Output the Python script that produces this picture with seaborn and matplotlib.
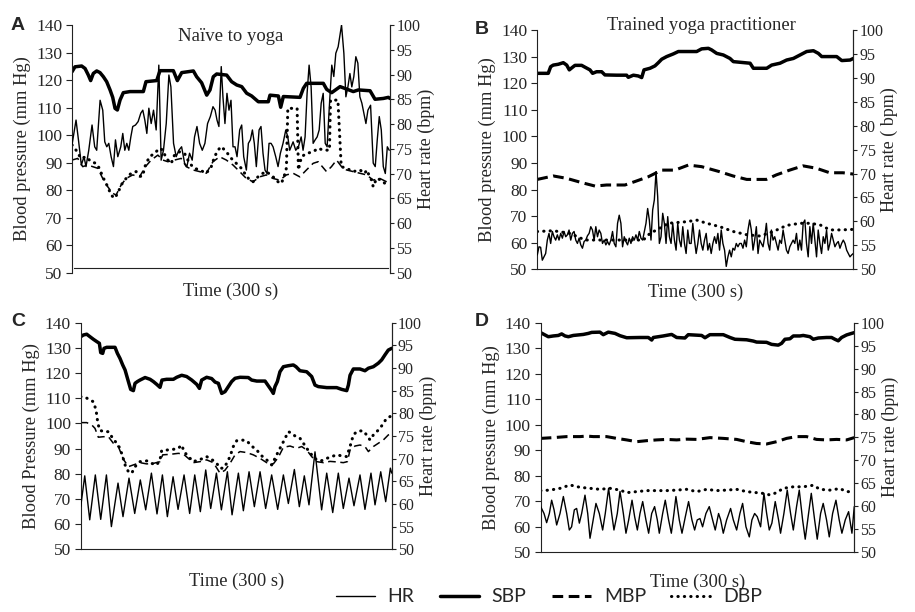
import numpy as np
import matplotlib
matplotlib.use("Agg")
import matplotlib.pyplot as plt
from matplotlib.lines import Line2D
import seaborn as sns

# ---------- Panel A : naive to yoga ----------
a_hr_t = [0, 3.8, 6.3, 8.8, 11.3, 13.2, 15.8, 18.9, 21.4, 23.3, 26.5, 29.0, 30.9, 32.8, 34.7, 36.9, 39.1, 41.0, 43.2, 46.0,
          47.9, 49.8, 51.7, 53.6, 55.5, 57.3, 59.9, 62.4, 64.9, 66.8, 68.7, 70.6, 72.5, 74.7, 76.9, 79.4, 81.9, 84.1, 86.3, 88.9,
          91.4, 93.3, 95.8, 98.3, 100.8, 103.4, 106.2, 108.4, 110.9, 113.4, 115.6, 117.9, 120.4, 122.9, 125.4, 127.9, 130.5, 133.0, 135.0, 136.8,
          138.6, 140.8, 142.4, 144.3, 146.2, 148.1, 150.0, 151.9, 153.8, 155.7, 158.2, 160.1, 162.0, 164.5, 166.4, 168.3, 170.2, 172.0, 173.9, 176.5,
          178.3, 180.2, 182.1, 184.0, 185.9, 187.8, 189.7, 192.2, 194.4, 196.6, 199.1, 201.7, 203.6, 205.4, 208.6, 211.1, 213.6, 216.2, 218.0, 219.9,
          221.8, 223.7, 225.6, 227.5, 229.4, 231.3, 233.2, 235.1, 237.0, 238.9, 240.7, 242.6, 245.1, 247.0, 248.9, 251.1, 254.3, 256.5, 258.4, 260.3,
          262.2, 264.0, 265.9, 267.8, 269.7, 271.6, 273.5, 275.4, 277.3, 279.2, 281.7, 284.2, 286.1, 288.0, 289.9, 291.8, 293.7, 295.6, 297.5, 299.3]
a_hr = [75.8, 80.8, 76.4, 71.7, 73.4, 71.4, 74.7, 79.8, 75.4, 74.7, 84.8, 82.8, 76.4, 75.4, 76.1, 73.4, 71.4, 76.8, 73.4, 75.4,
        78.1, 74.7, 76.1, 74.7, 77.4, 79.5, 79.8, 80.5, 82.2, 82.8, 80.8, 78.1, 83.2, 80.1, 82.8, 78.8, 91.9, 72.7, 74.7, 80.1,
        89.9, 87.5, 76.1, 73.4, 74.7, 75.4, 72.1, 71.4, 74.1, 72.7, 77.4, 79.5, 76.1, 74.7, 76.1, 80.1, 81.5, 83.5, 82.8, 80.8,
        79.5, 91.6, 85.5, 80.1, 86.2, 82.8, 84.8, 75.4, 75.4, 73.4, 78.8, 79.8, 73.4, 70.7, 76.1, 76.8, 78.8, 76.1, 71.4, 78.8,
        79.5, 74.1, 70.7, 70.0, 76.1, 76.1, 75.4, 73.4, 71.4, 74.1, 76.1, 78.8, 77.4, 74.7, 76.4, 74.7, 75.4, 77.4, 74.7, 77.4,
        86.2, 91.9, 87.5, 76.1, 76.8, 77.4, 78.8, 84.2, 86.2, 76.1, 75.4, 82.8, 91.9, 89.6, 94.3, 95.6, 100.0, 94.3, 85.5, 87.5,
        90.2, 87.5, 89.6, 93.6, 92.3, 85.5, 84.2, 82.2, 80.1, 82.8, 83.8, 72.1, 71.4, 76.8, 81.5, 78.8, 71.4, 70.0, 75.4, 74.7]
a_sbp_t = [0, 2.8, 9.1, 12.3, 15.4, 17.6, 20.1, 23.3, 26.4, 29.6, 32.7, 35.9, 38.4, 40.6, 42.8, 45.3, 48.4, 54.7, 67.3, 69.8,
           79.9, 83.0, 95.6, 99.4, 103.5, 114.5, 117.6, 122.3, 127.1, 130.2, 133.3, 136.5, 145.9, 150.6, 155.4, 160.1, 164.8, 169.5, 175.8, 185.2,
           186.8, 194.7, 196.9, 199.4, 215.1, 218.3, 221.4, 237.1, 240.3, 245.0, 252.9, 259.2, 265.4, 270.2, 281.2, 285.9, 293.7, 298.5, 300]
a_sbp = [123.0, 124.8, 125.1, 124.2, 121.8, 119.8, 122.4, 123.3, 122.7, 121.2, 119.4, 116.4, 113.7, 109.7, 109.1, 112.7, 115.4, 115.8, 115.8, 119.4,
         119.8, 123.4, 123.4, 119.8, 122.7, 123.3, 121.2, 119.0, 114.5, 116.4, 121.2, 122.2, 121.8, 119.4, 118.2, 117.6, 115.2, 114.2, 112.1, 112.1,
         114.5, 114.2, 110.1, 114.0, 113.7, 117.0, 118.8, 118.8, 116.6, 115.4, 117.6, 116.7, 115.8, 116.4, 116.1, 113.0, 113.3, 113.7, 113.3]
a_mbp_t = [0, 5.4, 10.1, 14.8, 19.5, 24.3, 29.0, 33.7, 38.4, 41.6, 46.3, 51.0, 57.3, 63.7, 69.3, 74.7, 81.0, 85.7, 90.4, 96.7,
           103.0, 107.8, 114.1, 120.4, 126.7, 133.0, 139.3, 145.6, 151.9, 158.2, 164.5, 170.8, 177.1, 183.4, 189.7, 196.0, 202.3, 208.6, 214.9, 221.2,
           227.5, 232.2, 240.1, 244.8, 249.6, 254.3, 259.0, 265.3, 271.6, 277.9, 284.2, 290.5, 296.8, 300]
a_mbp = [90.9, 91.5, 88.5, 89.1, 88.5, 87.9, 84.2, 81.2, 78.8, 78.2, 81.8, 84.2, 85.5, 84.8, 88.5, 90.9, 92.7, 90.9, 90.3, 90.9,
         91.5, 88.5, 87.3, 86.7, 86.1, 90.3, 92.1, 90.9, 89.1, 86.7, 84.2, 83.0, 84.8, 85.5, 84.2, 83.6, 85.5, 86.1, 84.8, 87.3,
         89.7, 90.3, 86.7, 88.5, 90.9, 88.5, 87.3, 86.7, 86.1, 85.5, 83.6, 84.2, 83.0, 82.4]
a_dbp_t = [0, 3.8, 8.5, 13.2, 18.0, 22.7, 25.8, 29.0, 33.7, 36.9, 40.0, 43.2, 46.3, 51.0, 55.8, 60.5, 65.2, 66.8, 69.3, 73.1,
           77.8, 82.6, 85.7, 88.9, 93.6, 96.7, 101.5, 106.2, 110.9, 115.6, 120.4, 126.7, 131.4, 134.5, 137.7, 140.8, 145.6, 150.3, 155.0, 159.8,
           162.9, 167.6, 170.8, 175.5, 180.2, 183.4, 189.7, 194.4, 197.6, 200.5, 202.3, 203.6, 212.4, 213.6, 216.5, 221.2, 227.5, 232.2, 237.0, 241.7,
           242.9, 243.9, 250.9, 254.0, 259.0, 265.3, 271.6, 276.4, 277.9, 282.6, 284.2, 287.3, 292.1, 295.2, 298.4]
a_dbp = [96.4, 94.5, 91.5, 92.1, 90.3, 89.7, 87.9, 84.8, 81.2, 78.2, 77.0, 78.8, 81.8, 84.2, 86.1, 86.7, 84.8, 85.5, 89.1, 92.1,
         93.3, 95.2, 94.5, 91.5, 89.7, 92.7, 93.9, 93.3, 89.7, 87.9, 87.3, 86.1, 88.5, 92.1, 94.5, 95.8, 93.9, 91.5, 89.7, 87.9,
         86.1, 83.6, 83.0, 84.8, 86.1, 86.7, 84.8, 83.0, 82.4, 85.5, 88.0, 109.7, 109.7, 87.3, 92.1, 93.3, 93.9, 95.2, 94.5, 94.5,
         94.5, 112.7, 112.7, 88.5, 87.9, 86.7, 87.3, 86.1, 87.3, 83.6, 81.2, 84.2, 83.6, 82.4, 81.2]

# ---------- Panel B : trained yoga practitioner ----------
b_hr = [53.0, 54.7, 54.6, 51.9, 52.6, 53.3, 56.1, 57.5, 55.4, 57.9, 56.8, 56.1, 57.2, 56.1, 57.5, 56.5, 57.9, 56.8, 57.2, 58.2,
        56.1, 57.5, 57.9, 56.1, 55.4, 56.5, 55.1, 54.4, 55.8, 56.1, 57.0, 57.5, 58.9, 58.2, 56.1, 58.9, 56.8, 58.2, 57.5, 55.4,
        56.1, 55.1, 55.8, 55.1, 56.1, 57.9, 55.4, 54.7, 59.6, 61.3, 59.6, 54.7, 56.8, 55.8, 55.1, 56.5, 55.4, 56.8, 56.1, 57.2,
        56.1, 57.9, 56.5, 56.1, 57.9, 59.6, 62.7, 60.3, 56.1, 62.4, 64.5, 70.4, 65.2, 55.4, 56.8, 61.7, 59.6, 55.4, 61.0, 56.8,
        55.4, 59.6, 56.1, 54.0, 59.6, 56.1, 54.7, 58.9, 55.4, 53.3, 58.2, 55.4, 55.4, 59.6, 56.1, 53.3, 55.4, 58.2, 55.4, 54.0,
        56.1, 57.5, 54.0, 55.4, 53.3, 55.4, 56.8, 55.4, 57.5, 54.0, 58.2, 55.4, 54.0, 50.6, 52.6, 54.0, 52.6, 54.4, 54.0, 55.4,
        54.7, 55.4, 55.4, 54.4, 56.1, 54.7, 58.2, 60.3, 58.2, 54.0, 56.1, 58.9, 53.3, 56.1, 55.4, 54.7, 56.8, 59.6, 55.4, 54.0,
        58.2, 56.1, 56.8, 55.4, 54.0, 56.1, 55.4, 58.2, 56.1, 54.0, 53.3, 54.7, 55.4, 56.1, 55.4, 57.5, 54.0, 56.1, 54.0, 59.6,
        60.3, 55.4, 52.6, 58.9, 55.4, 59.6, 56.1, 52.6, 58.2, 55.4, 53.3, 56.8, 55.4, 58.2, 54.0, 55.4, 57.5, 56.1, 54.7, 55.4,
        55.8, 54.4, 55.4, 56.1, 55.4, 54.0, 53.3, 52.6, 53.0, 53.3]
b_sbp_t = [0, 10.4, 12.7, 15.2, 19.9, 24.7, 27.9, 30.4, 33.5, 35.8, 42.1, 45.3, 50.0, 52.5, 56.3, 61.1, 64.2, 75.3, 84.8, 86.4,
           91.2, 95.9, 99.1, 101.3, 107.0, 111.7, 114.9, 118.1, 122.8, 129.1, 133.9, 151.3, 156.0, 162.4, 165.5, 170.3, 176.6, 182.9, 186.1, 202.0,
           205.1, 217.8, 222.5, 230.4, 236.7, 243.1, 249.4, 255.7, 262.1, 266.8, 270.0, 284.2, 289.0, 296.9, 300]
b_sbp = [123.7, 123.7, 126.2, 126.8, 127.1, 127.7, 126.8, 125.0, 126.0, 126.7, 126.7, 126.0, 125.0, 123.7, 124.3, 124.3, 123.1, 123.0, 123.0, 122.2,
         123.0, 122.7, 122.1, 125.0, 125.6, 126.5, 127.7, 129.0, 130.0, 131.0, 131.9, 131.9, 132.9, 133.1, 132.5, 131.2, 130.6, 129.3, 128.1, 127.5,
         125.6, 125.6, 126.8, 127.5, 128.7, 129.3, 130.6, 131.9, 132.2, 131.2, 130.0, 130.0, 128.5, 128.7, 129.3]
b_mbp_t = [0, 15.2, 27.9, 42.1, 54.8, 65.8, 83.2, 92.7, 105.4, 118.1, 130.7, 143.4, 156.0, 173.1, 185.8, 198.8, 217.4, 226.9, 239.6, 252.2,
           264.9, 277.6, 290.2, 300]
b_mbp = [83.8, 85.1, 84.2, 82.6, 81.3, 81.7, 81.7, 83.0, 84.8, 87.3, 87.3, 89.2, 88.6, 86.7, 85.1, 83.8, 83.8, 85.5, 87.3, 88.9,
         88.0, 86.3, 86.3, 85.8]
b_dbp_t = [0, 15.2, 31.0, 45.3, 72.2, 100.6, 107.0, 113.3, 124.4, 141.8, 151.3, 160.8, 173.4, 186.1, 198.8, 211.4, 224.1, 236.7, 249.4, 258.9,
           268.4, 277.9, 287.4, 300]
b_dbp = [64.2, 64.5, 63.5, 61.0, 61.0, 61.0, 63.5, 64.8, 67.3, 67.9, 68.5, 67.3, 66.0, 64.2, 63.0, 62.5, 64.2, 66.5, 67.3, 67.3,
         66.7, 64.8, 64.8, 65.0]

# ---------- Panel C ----------
c_hr_t = [0, 3.9, 8.7, 14.1, 19.3, 24.8, 29.6, 36.0, 40.8, 46.6, 52.1, 57.5, 62.7, 68.2, 73.6, 78.8, 83.6, 89.1, 93.9, 99.7,
          105.1, 110.0, 115.4, 120.6, 125.4, 130.9, 135.7, 141.5, 146.0, 152.1, 156.9, 162.4, 167.5, 173.0, 178.4, 184.2, 190.0, 195.5, 200.3, 206.1,
          210.9, 215.7, 220.2, 226.0, 232.4, 237.3, 243.1, 248.5, 253.3, 258.8, 263.6, 269.4, 274.2, 280.0, 283.9, 289.4, 294.2, 298.7, 300]
c_hr = [59.4, 66.2, 56.5, 66.4, 56.6, 66.4, 55.0, 64.6, 57.2, 65.7, 57.9, 65.3, 58.7, 66.8, 57.8, 66.4, 57.2, 66.0, 58.8, 66.4,
        57.9, 66.4, 58.3, 67.5, 59.0, 66.8, 58.7, 67.1, 57.6, 66.8, 58.5, 67.1, 59.4, 67.1, 59.0, 66.4, 58.8, 66.4, 60.1, 67.6,
        59.4, 66.2, 59.8, 71.5, 58.7, 66.8, 58.1, 66.8, 59.0, 65.7, 59.6, 66.4, 58.8, 66.8, 59.8, 67.1, 60.5, 67.9, 66.8]
c_sbp_t = [0, 2.6, 5.8, 9.0, 12.2, 15.4, 18.0, 19.3, 21.2, 22.5, 25.1, 33.1, 35.4, 37.9, 40.5, 42.8, 46.0, 48.2, 50.8, 52.4,
           54.7, 57.2, 62.1, 66.9, 70.1, 73.3, 76.5, 78.4, 82.9, 89.4, 92.6, 97.4, 102.2, 107.1, 111.9, 114.5, 116.7, 121.5, 126.3, 129.6,
           132.8, 136.0, 139.2, 142.4, 145.6, 148.9, 153.7, 161.7, 164.9, 169.8, 177.8, 181.0, 184.2, 185.8, 187.4, 189.7, 192.2, 195.5, 200.3, 205.1,
           207.7, 211.5, 218.0, 222.8, 226.0, 229.2, 237.3, 246.9, 251.7, 256.6, 258.2, 259.8, 263.0, 269.4, 274.2, 277.5, 282.3, 287.1, 290.3, 293.5,
           296.7, 300]
c_sbp = [134.4, 135.1, 135.4, 134.4, 133.4, 132.5, 131.8, 128.1, 127.8, 129.8, 130.2, 130.2, 127.8, 125.8, 123.2, 121.2, 116.6, 113.5, 113.0, 115.9,
         116.6, 117.2, 118.2, 117.5, 116.6, 115.5, 114.3, 117.2, 117.5, 117.5, 118.3, 119.1, 118.6, 117.2, 115.5, 113.9, 117.2, 118.3, 117.8, 116.4,
         115.9, 111.9, 112.6, 114.6, 116.6, 117.9, 118.3, 118.2, 117.2, 116.8, 116.8, 114.9, 113.0, 111.9, 114.6, 116.6, 120.5, 122.5, 122.9, 123.2,
         122.5, 120.9, 120.5, 118.6, 115.2, 114.6, 114.2, 114.2, 113.5, 113.0, 115.2, 119.1, 121.6, 121.6, 120.9, 121.9, 122.5, 123.9, 125.2, 127.2,
         129.1, 129.8]
c_mbp_t = [0, 5.8, 10.6, 13.8, 17.0, 21.9, 26.7, 31.5, 36.3, 41.2, 46.0, 50.8, 57.2, 63.7, 70.1, 76.5, 79.1, 86.2, 94.2, 99.0,
           103.8, 108.7, 115.1, 121.5, 128.0, 134.4, 139.2, 144.0, 148.9, 153.7, 160.1, 166.5, 173.0, 179.4, 185.8, 190.6, 195.5, 201.9, 208.3, 213.2,
           218.0, 222.8, 227.6, 234.1, 240.5, 246.9, 253.3, 257.2, 259.8, 264.6, 269.4, 274.2, 277.5, 282.3, 287.1, 291.9, 296.7, 300]
c_mbp = [100.3, 100.3, 99.4, 98.0, 94.5, 94.7, 94.7, 92.1, 90.8, 85.7, 82.8, 83.5, 84.4, 83.9, 84.1, 84.8, 87.5, 87.7, 88.1, 87.8,
         86.1, 84.4, 84.8, 85.5, 84.4, 80.2, 81.4, 84.1, 87.5, 88.8, 88.4, 87.5, 86.1, 84.4, 83.9, 86.5, 90.5, 91.0, 90.1, 90.8,
         89.4, 86.8, 84.8, 84.4, 84.9, 84.7, 84.4, 84.8, 89.4, 91.0, 91.4, 90.8, 88.8, 90.8, 92.1, 93.4, 95.4, 96.1]
c_dbp_t = [0, 4.2, 9.0, 12.2, 14.8, 16.1, 18.0, 21.9, 26.7, 30.9, 34.7, 37.9, 40.5, 42.8, 46.0, 49.2, 52.4, 57.2, 63.7, 68.5,
           73.3, 76.5, 78.1, 82.9, 89.4, 94.2, 97.4, 99.7, 103.8, 108.7, 113.5, 118.3, 121.5, 126.3, 131.2, 134.4, 137.6, 140.8, 144.0, 147.2,
           150.5, 155.3, 160.1, 164.9, 169.8, 174.6, 179.4, 184.2, 187.4, 190.6, 195.5, 200.3, 203.5, 206.7, 211.5, 214.8, 218.0, 222.8, 227.6, 232.4,
           237.3, 242.1, 246.9, 251.7, 256.6, 259.8, 263.0, 266.2, 269.4, 272.6, 275.8, 279.1, 282.3, 285.5, 288.7, 291.9, 295.1, 298.4]
c_dbp = [110.6, 110.4, 109.3, 108.6, 105.3, 101.4, 97.4, 96.7, 96.7, 94.1, 92.1, 90.1, 86.8, 83.5, 80.8, 80.2, 82.8, 84.8, 85.1, 84.1,
         83.5, 85.5, 89.2, 89.4, 89.7, 90.1, 91.4, 88.8, 86.8, 84.8, 85.5, 86.1, 86.8, 85.7, 84.1, 82.2, 82.2, 84.1, 86.8, 90.8,
         93.1, 93.4, 93.1, 91.0, 89.4, 87.1, 85.5, 83.5, 86.1, 88.8, 92.7, 96.7, 96.1, 95.0, 94.1, 92.1, 90.1, 87.5, 85.5, 85.2,
         86.1, 86.8, 87.5, 87.1, 86.8, 90.8, 95.4, 96.7, 97.0, 97.0, 95.4, 93.4, 95.4, 96.7, 98.0, 100.0, 102.0, 102.7]

# ---------- Panel D ----------
d_hr_t = [0, 3.2, 5.7, 8.3, 10.5, 12.8, 15.3, 18.5, 21.7, 24.9, 27.4, 29.6, 32.2, 34.4, 37.0, 39.2, 42.4, 45.0, 47.2, 49.7,
          52.9, 56.1, 59.3, 61.8, 65.0, 67.9, 70.1, 73.3, 75.9, 79.1, 81.6, 84.2, 87.4, 89.9, 92.5, 95.0, 97.6, 100.7, 103.3, 106.2,
          109.0, 111.6, 113.5, 116.7, 119.2, 122.4, 125.0, 127.5, 129.4, 132.6, 135.2, 138.4, 141.5, 144.7, 147.3, 149.8, 152.4, 154.9, 158.1, 161.3,
          164.5, 167.0, 170.2, 172.2, 174.7, 177.9, 181.7, 184.3, 187.5, 190.6, 193.2, 196.4, 199.6, 202.1, 204.7, 207.2, 210.4, 213.6, 216.2, 218.7,
          221.2, 224.4, 227.6, 229.5, 232.7, 235.9, 239.1, 241.7, 244.8, 247.4, 250.6, 253.1, 256.3, 258.9, 262.1, 264.6, 267.8, 270.3, 273.5, 276.1,
          279.3, 282.5, 285.6, 288.2, 291.4, 294.6, 297.8, 300]
d_hr = [59.9, 58.4, 56.4, 58.4, 61.3, 59.2, 55.9, 58.4, 62.1, 58.4, 54.8, 55.5, 59.2, 59.5, 56.3, 58.4, 62.4, 58.4, 53.0, 56.3,
        60.6, 58.4, 54.8, 58.4, 63.9, 58.4, 54.8, 58.4, 63.2, 58.4, 54.1, 57.0, 61.3, 57.7, 54.8, 58.4, 61.0, 57.0, 54.1, 58.4,
        59.9, 57.0, 54.1, 58.4, 61.3, 57.0, 54.1, 58.4, 62.1, 57.0, 54.1, 57.7, 61.0, 57.0, 54.8, 57.0, 57.3, 55.5, 58.4, 59.9,
        57.0, 54.8, 58.4, 57.0, 54.1, 57.0, 59.5, 57.0, 54.8, 58.4, 60.6, 55.5, 53.3, 57.0, 58.4, 57.7, 55.5, 62.8, 58.4, 54.8,
        56.3, 61.0, 57.0, 54.1, 58.4, 63.5, 58.4, 54.8, 59.9, 63.5, 57.0, 52.8, 58.4, 62.8, 57.0, 52.8, 58.4, 60.6, 57.0, 53.3,
        58.4, 61.3, 57.0, 54.1, 57.0, 58.8, 54.1, 59.9]
d_sbp_t = [0, 4.1, 7.3, 12.1, 16.9, 20.1, 23.3, 26.5, 31.2, 40.8, 45.6, 48.8, 56.7, 59.9, 64.7, 71.1, 75.9, 82.3, 95.0, 103.0,
           106.2, 107.8, 117.3, 125.3, 130.1, 138.0, 141.2, 154.0, 157.2, 161.9, 174.7, 181.1, 185.9, 197.0, 203.4, 206.6, 216.1, 220.9, 227.3, 230.5,
           233.7, 238.5, 241.7, 248.0, 251.2, 257.6, 260.8, 265.6, 273.5, 278.3, 281.5, 284.7, 287.9, 292.7, 297.4, 300]
d_sbp = [136.1, 135.2, 134.5, 134.8, 135.0, 135.6, 134.8, 134.5, 135.0, 135.4, 135.8, 136.2, 136.3, 135.3, 136.3, 135.8, 134.9, 134.1, 134.2, 134.2,
         133.2, 134.2, 134.8, 135.4, 134.2, 134.0, 135.3, 135.0, 134.1, 135.3, 135.3, 134.2, 133.5, 133.3, 132.8, 132.4, 132.3, 131.5, 131.2, 131.9,
         133.5, 133.7, 134.8, 134.8, 135.0, 134.5, 133.5, 134.0, 134.2, 134.2, 133.5, 132.9, 134.2, 135.2, 135.8, 136.1]
d_mbp_t = [0, 12.1, 24.9, 37.6, 44.0, 50.4, 63.1, 72.7, 82.3, 91.8, 101.4, 110.9, 120.5, 130.1, 139.6, 149.2, 162.0, 174.7, 187.5, 197.0,
           206.6, 216.1, 225.7, 235.3, 244.8, 254.4, 263.9, 273.5, 283.1, 292.7, 300]
d_mbp = [94.6, 94.9, 95.3, 95.3, 95.5, 95.3, 95.3, 94.6, 94.0, 93.3, 93.7, 94.0, 94.2, 94.0, 94.3, 94.2, 94.9, 94.6, 94.2, 93.3,
         92.6, 92.4, 93.3, 94.6, 95.3, 95.3, 94.2, 94.0, 94.2, 94.0, 94.9]
d_dbp_t = [0, 8.9, 18.5, 28.1, 37.6, 47.2, 56.7, 66.3, 75.9, 82.3, 91.8, 101.4, 110.9, 120.5, 130.1, 139.6, 149.2, 158.8, 168.3, 177.9,
           187.5, 197.0, 206.6, 213.0, 219.4, 225.7, 232.1, 241.7, 251.2, 260.8, 267.2, 276.7, 286.3, 292.7, 300]
d_dbp = [74.1, 74.3, 75.0, 76.3, 75.4, 75.0, 74.6, 75.0, 74.3, 73.3, 73.7, 74.1, 74.1, 74.1, 74.3, 74.6, 73.7, 74.6, 74.1, 74.3,
         74.6, 73.7, 73.3, 73.0, 72.4, 73.3, 75.0, 75.6, 75.6, 76.2, 74.6, 74.3, 74.9, 73.7, 73.7]

# ---------- style ----------
sns.set_style("white")
plt.rcParams["font.family"] = ["Liberation Serif", "DejaVu Serif"]

DOT = (0, (0.1, 2.0))


def draw_panel(rect, hr_t, hr, sbp_t, sbp, mbp_t, mbp, dbp_t, dbp,
               mbp_lw, ylab, hrlab, xlab_y, ylab_x, hrlab_x):
    ax = fig.add_axes(rect)
    ax2 = ax.twinx()

    sns.lineplot(x=sbp_t, y=sbp, ax=ax, color="black", linewidth=2.5, estimator=None, sort=False)
    if mbp_lw > 1.5:
        dash = (0, (3.5, 1.8))
    else:
        dash = (0, (5, 3))
    sns.lineplot(x=mbp_t, y=mbp, ax=ax, color="black", linewidth=mbp_lw, linestyle=dash,
                 estimator=None, sort=False)
    sns.lineplot(x=dbp_t, y=dbp, ax=ax, color="black", linewidth=2.2, linestyle=DOT,
                 dash_capstyle="round", estimator=None, sort=False)
    hr_t_arr = hr_t if hr_t is not None else np.linspace(0, 300, len(hr))
    sns.lineplot(x=hr_t_arr, y=hr, ax=ax2, color="black", linewidth=1.0, estimator=None, sort=False)

    ax.set_xlim(0, 300)
    ax.set_ylim(50, 140)
    ax2.set_ylim(50, 100)
    ax.set_yticks(range(50, 141, 10))
    ax2.set_yticks(range(50, 101, 5))
    ax.set_xticks([])
    ax2.set_xticks([])
    for a in (ax, ax2):
        a.spines["top"].set_visible(False)
        for s in ("left", "right", "bottom"):
            a.spines[s].set_color("#222222")
            a.spines[s].set_linewidth(0.8)
    ax.tick_params(axis="y", direction="out", length=4, width=0.8, color="#222222",
                   labelsize=12.5, pad=3)
    ax2.tick_params(axis="y", direction="out", length=3, width=0.8, color="#222222",
                    labelsize=11.5, pad=1.5)
    ax2.spines["left"].set_visible(False)
    ax2.spines["bottom"].set_visible(False)

    ax.set_xlabel("Time (300 s)", fontsize=13.3)
    ax.xaxis.set_label_coords(0.5, xlab_y)
    ax.set_ylabel(ylab, fontsize=13.3)
    ax.yaxis.set_label_coords(ylab_x, 0.5)
    ax2.set_ylabel(hrlab, fontsize=13)
    ax2.yaxis.set_label_coords(hrlab_x, 0.5)
    return ax, ax2


fig = plt.figure(figsize=(9.15, 6.12), dpi=100)

axA, _ = draw_panel([0.0787, 0.5547, 0.3475, 0.4044], a_hr_t, a_hr, a_sbp_t, a_sbp, a_mbp_t, a_mbp,
                    a_dbp_t, a_dbp, 1.1, "Blood pressure (mm Hg)", "Heart rate (bpm)", -0.04, -0.129, 1.088)
axA.spines["bottom"].set_position(("data", 51.5))
axA.spines["bottom"].set_bounds(2, 298)
axA.text(0.5, 0.99, "Naïve to yoga", transform=axA.transAxes, ha="center", va="top", fontsize=13.5)

axB, _ = draw_panel([0.5872, 0.5600, 0.3454, 0.3910], None, b_hr, b_sbp_t, b_sbp, b_mbp_t, b_mbp,
                    b_dbp_t, b_dbp, 2.2, "Blood pressure (mm Hg)", "Heart rate ( bpm)", -0.06, -0.130, 1.088)
axB.text(0.52, 1.02, "Trained yoga practitioner", transform=axB.transAxes, ha="center", va="center",
         fontsize=13.4)

axC, _ = draw_panel([0.0882, 0.1025, 0.3399, 0.3703], c_hr_t, c_hr, c_sbp_t, c_sbp, c_mbp_t, c_mbp,
                    c_dbp_t, c_dbp, 1.1, "Blood Pressure (mm Hg)", "Heart rate (bpm)", -0.105, -0.131, 1.091)

axD, _ = draw_panel([0.5909, 0.0980, 0.3427, 0.3747], d_hr_t, d_hr, d_sbp_t, d_sbp, d_mbp_t, d_mbp,
                    d_dbp_t, d_dbp, 2.2, "Blood pressure (mm Hg)", "Heart rate (bpm)", -0.095, -0.130, 1.088)

# panel letters
for lab, (px, py) in zip(["A", "B", "C", "D"], [(18, 25), (482, 30), (18, 322), (482, 322)]):
    fig.text(px / 915, 1 - py / 612, lab, ha="center", va="center", fontsize=14, fontweight="bold",
             family=["Liberation Sans", "DejaVu Sans"])

# legend
handles = [
    Line2D([], [], color="black", linewidth=1.0),
    Line2D([], [], color="black", linewidth=2.5),
    Line2D([], [], color="black", linewidth=2.2, linestyle=(0, (3.5, 1.8))),
    Line2D([], [], color="black", linewidth=2.2, linestyle=DOT, dash_capstyle="round"),
]
fig.legend(handles, ["HR", "SBP", "MBP", "DBP"], loc="center", bbox_to_anchor=(549 / 915, 1 - 597 / 612),
           ncol=4, frameon=False, handlelength=2.0, handletextpad=0.67, columnspacing=1.3,
           prop={"family": ["Lato", "DejaVu Sans"], "size": 14})

fig.savefig("out.png", dpi=100)
